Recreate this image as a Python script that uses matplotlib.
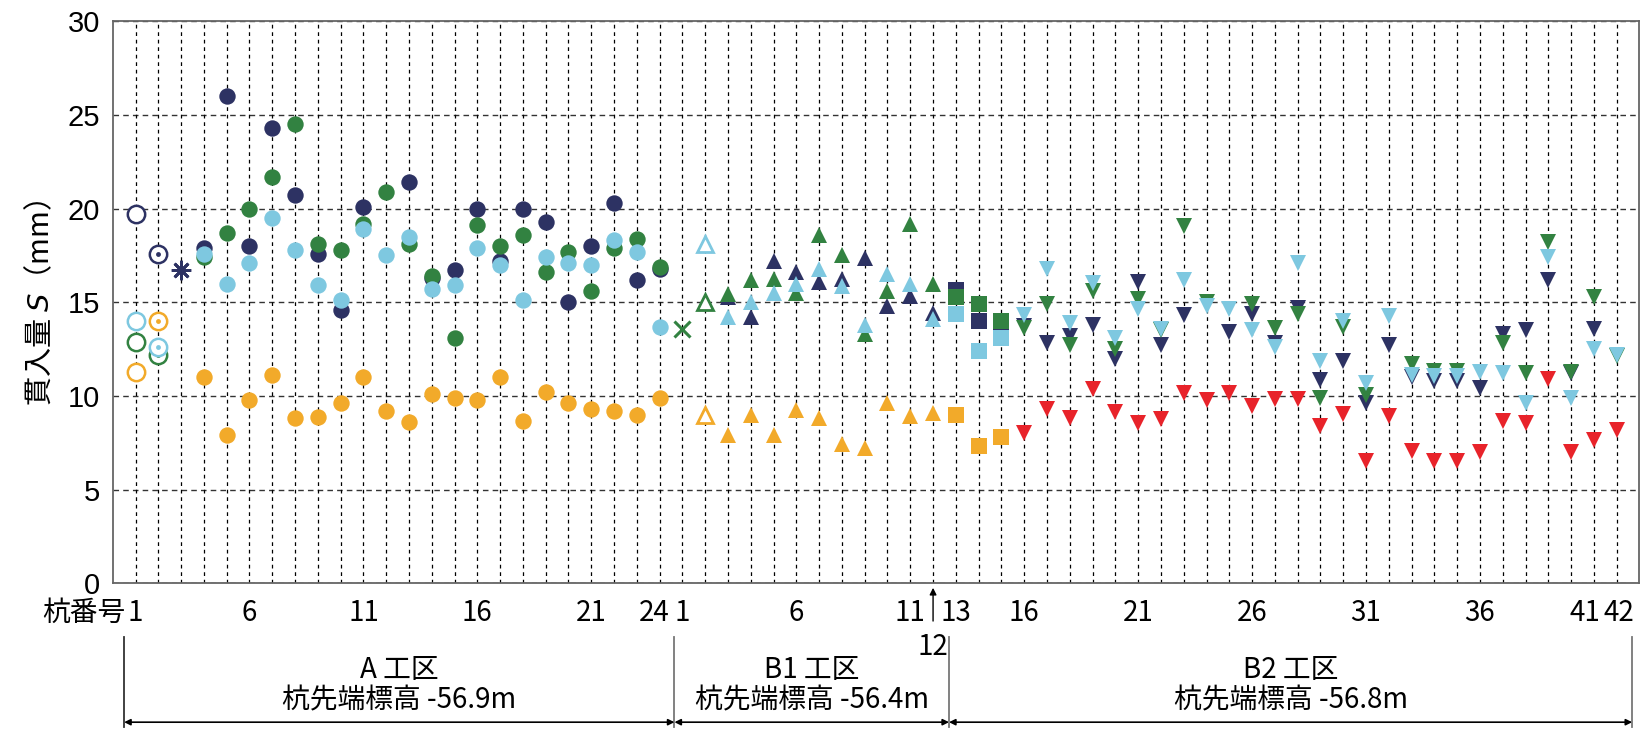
import numpy as np
import matplotlib
matplotlib.use('Agg')
import matplotlib.pyplot as plt
from matplotlib import transforms

plt.rcParams['font.family'] = ['Noto Sans CJK JP', 'DejaVu Sans']

nan = np.nan

# pile numbers per section
a_piles = list(range(1, 25))
b1_piles = list(range(1, 13))
b2_piles = list(range(13, 43))

# A section (pile 1: hollow, pile 2: dotted, pile 3: asterisk, 4-24: filled circles)
a_navy = [19.7, 17.6, 16.7, 17.9, 26.0, 18.0, 24.3, 20.7, 17.6, 14.6, 20.1, nan,
          21.4, 16.3, 16.7, 20.0, 17.2, 20.0, 19.3, 15.0, 18.0, 20.3, 16.2, 16.8]
a_green = [12.9, 12.2, nan, 17.4, 18.7, 20.0, 21.7, 24.5, 18.1, 17.8, 19.2, 20.9,
           18.1, 16.4, 13.1, 19.1, 18.0, 18.6, 16.6, 17.7, 15.6, 17.9, 18.4, 16.9]
a_lblue = [14.0, 12.6, nan, 17.6, 16.0, 17.1, 19.5, 17.8, 15.9, 15.1, 18.9, 17.5,
           18.5, 15.7, 15.9, 17.9, 17.0, 15.1, 17.4, 17.1, 17.0, 18.3, 17.7, 13.7]
a_orange = [11.3, 14.0, nan, 11.0, 7.9, 9.8, 11.1, 8.8, 8.9, 9.6, 11.0, 9.2,
            8.6, 10.1, 9.9, 9.8, 11.0, 8.65, 10.2, 9.6, 9.3, 9.2, 9.0, 9.9]

# B1 section (pile 1: cross, pile 2: hollow triangles, 3-12: filled triangles)
b1_navy = [nan, nan, 15.3, 14.2, 17.2, 16.6, 16.1, 16.25, 17.35, 14.8, 15.35, 14.45]
b1_green = [13.6, 15.0, 15.45, 16.2, 16.25, 15.5, 18.6, 17.5, 13.3, 15.6, 19.2, 15.95]
b1_lblue = [nan, 18.1, 14.2, 15.0, 15.5, 16.0, 16.8, 15.85, 13.8, 16.5, 16.0, 14.1]
b1_orange = [nan, 9.0, 7.9, 9.0, 7.9, 9.25, 8.85, 7.45, 7.2, 9.6, 8.95, 9.1]

# B2 section (piles 13-15: squares, 16-42: down triangles)
b2_navy = [15.65, 14.0, 13.7, 13.75, 12.85, 13.2, 13.8, 11.95, 16.1, 12.7, 14.3, nan,
           13.4, 14.35, 12.85, 14.7, 10.85, 11.85, 9.65, 12.7, 11.0, 10.8, 10.8, 10.45,
           13.3, 13.5, 16.2, 11.2, 13.55, nan]
b2_green = [15.3, 14.9, 14.0, 13.65, 14.9, 12.7, 15.6, 12.5, 15.2, 13.5, 19.05, 15.0,
            nan, 14.9, 13.65, 14.35, 9.9, 13.7, 10.05, nan, 11.7, 11.35, 11.35, nan,
            12.85, 11.25, 18.2, 11.3, 15.3, 12.15]
b2_lblue = [14.35, 12.4, 13.1, 14.3, 16.8, 13.9, 16.05, 13.1, 14.65, 13.6, 16.2, 14.8,
            14.65, 13.5, 12.6, 17.1, 11.85, 14.0, 10.7, 14.25, 11.1, 11.05, 11.05, 11.3,
            11.2, 9.65, 17.4, 9.9, 12.5, 12.2]
b2_orange = [9.0, 7.35, 7.8]
b2_red = [8.0, 9.3, 8.85, 10.35, 9.15, 8.55, 8.75, 10.15, 9.8, 10.15, 9.45, 9.85,
          9.85, 8.4, 9.05, 6.55, 8.95, 7.05, 6.55, 6.55, 7.0, 8.65, 8.55, 10.9,
          7.0, 7.65, 8.2]

a_labels = [1, 6, 11, 16, 21, 24]
b1_labels = [1, 6, 11]
b2_labels = [13, 16, 21, 26, 31, 36, 41, 42]

sections = [('A 工区', '杭先端標高 -56.9m'),
            ('B1 工区', '杭先端標高 -56.4m'),
            ('B2 工区', '杭先端標高 -56.8m')]

NAVY = '#2d3263'
GREEN = '#328241'
LBLUE = '#7ec8e0'
ORANGE = '#f2aa2a'
RED = '#e8232a'
FS = 20

xa = np.arange(len(a_piles))
xb1 = len(a_piles) + np.arange(len(b1_piles))
xb2 = len(a_piles) + len(b1_piles) + np.arange(len(b2_piles))

fig = plt.figure(figsize=(16.51, 7.31), dpi=100)
ax = fig.add_axes([0.0683, 0.202, 0.9247, 0.769])


def pts(x, y, color, marker, ms, z, hollow=False, mew=1.8):
    y = np.asarray(y, dtype=float)
    if hollow:
        ax.plot(x, y, ls='none', marker=marker, ms=ms, mfc='white', mec=color,
                mew=mew, zorder=z, clip_on=False)
    else:
        ax.plot(x, y, ls='none', marker=marker, ms=ms, color=color, mew=0,
                zorder=z, clip_on=False)


series = [(NAVY, a_navy, b1_navy, b2_navy, 3),
          (GREEN, a_green, b1_green, b2_green, 4),
          (LBLUE, a_lblue, b1_lblue, b2_lblue, 5),
          (ORANGE, a_orange, b1_orange, None, 6)]

for color, ya, yb1, yb2, z in series:
    ya = np.asarray(ya, dtype=float)
    yb1 = np.asarray(yb1, dtype=float)
    # A: pile 1 hollow, pile 2 dotted circle, 4-24 filled
    pts(xa[:1], ya[:1], color, 'o', 12.5, z, hollow=True)
    pts(xa[1:2], ya[1:2], color, 'o', 12.5, z, hollow=True)
    pts(xa[1:2], ya[1:2], color, 'o', 3.5, z + 0.1)
    pts(xa[3:], ya[3:], color, 'o', 11.8, z)
    # B1: pile 1 cross, pile 2 hollow triangle, rest filled
    ax.plot(xb1[:1], yb1[:1], ls='none', marker='x', ms=12, mec=color, mew=2.2, zorder=z)
    pts(xb1[1:2], yb1[1:2], color, '^', 11, z, hollow=True, mew=2)
    pts(xb1[2:], yb1[2:], color, '^', 11, z)
    if yb2 is not None:
        yb2 = np.asarray(yb2, dtype=float)
        pts(xb2[:3], yb2[:3], color, 's', 11.5, z)
        pts(xb2[3:], yb2[3:], color, 'v', 11, z)

# asterisk for A pile 3 (navy)
ax.plot(xa[2:3], np.asarray(a_navy)[2:3], ls='none', marker=(8, 2, 0), ms=14,
        mec=NAVY, mew=2.0, zorder=3)

pts(xb2[:3], b2_orange, ORANGE, 's', 11.5, 6)
pts(xb2[3:], b2_red, RED, 'v', 11, 6)

ax.set_xlim(-1, 66)
ax.set_ylim(0, 30)
ax.set_yticks(np.arange(0, 31, 5))
ax.yaxis.grid(True, ls=(0, (4, 3)), color='#333333', lw=1.0, zorder=1)
ax.vlines(np.arange(len(a_piles) + len(b1_piles) + len(b2_piles)), 0, 30,
          colors='black', linestyles=(0, (3, 3)), lw=0.9, zorder=1)
ax.set_axisbelow(True)
for s in ax.spines.values():
    s.set_color('#666666')
    s.set_linewidth(1.3)

ax.tick_params(axis='y', length=0, pad=9, labelsize=21)
for t in ax.get_yticklabels():
    t.set_fontfamily('Liberation Sans')
ax.set_xticks([])
ax.set_ylabel('貫入量 $S$（mm）', fontsize=21, labelpad=8)

trans = transforms.blended_transform_factory(ax.transData, ax.transAxes)
tick_y = -0.052
for xs, piles, labs in [(xa, a_piles, a_labels), (xb1, b1_piles, b1_labels),
                        (xb2, b2_piles, b2_labels)]:
    for x, p in zip(xs, piles):
        if p in labs:
            dx = 0.0
            # crowded neighbours: nudge them apart
            if p == 24 and labs is a_labels:
                dx = -0.25
            elif p == 41:
                dx = -0.4
            elif p == 42:
                dx = 0.1
            ax.text(x + dx, tick_y, str(p), transform=trans, ha='center', va='center',
                    fontsize=FS)
ax.text(-0.45, tick_y, '杭番号', transform=trans, ha='right', va='center', fontsize=FS)

# pile 12 of B1 with arrow
x12 = xb1[-1]
ax.annotate('', xy=(x12, -0.003), xycoords=trans, xytext=(x12, -0.072), textcoords=trans,
            arrowprops=dict(arrowstyle='-|>', color='black', lw=1.0, mutation_scale=10))
ax.text(x12, -0.114, str(b1_piles[-1]), transform=trans, ha='center', va='center', fontsize=FS)

# section brackets
bounds = [-0.5, len(a_piles) - 0.35, len(a_piles) + len(b1_piles) - 0.3, xb2[-1] + 0.68]
for i, b in enumerate(bounds):
    ax.plot([b, b], [-0.096, -0.255], transform=trans, color='#333333' if i == 0 else '#777777',
            lw=1.3, clip_on=False)
for i, (name, elev) in enumerate(sections):
    x0, x1 = bounds[i], bounds[i + 1]
    ax.annotate('', xy=(x0, -0.247), xycoords=trans, xytext=(x1, -0.247), textcoords=trans,
                arrowprops=dict(arrowstyle='<|-|>', color='black', lw=1.2, mutation_scale=9,
                                shrinkA=0, shrinkB=0))
    xm = (x0 + x1) / 2
    ax.text(xm, -0.154, name, transform=trans, ha='center', va='center', fontsize=FS)
    ax.text(xm, -0.208, elev, transform=trans, ha='center', va='center', fontsize=FS)

fig.savefig('out.png', dpi=100)
